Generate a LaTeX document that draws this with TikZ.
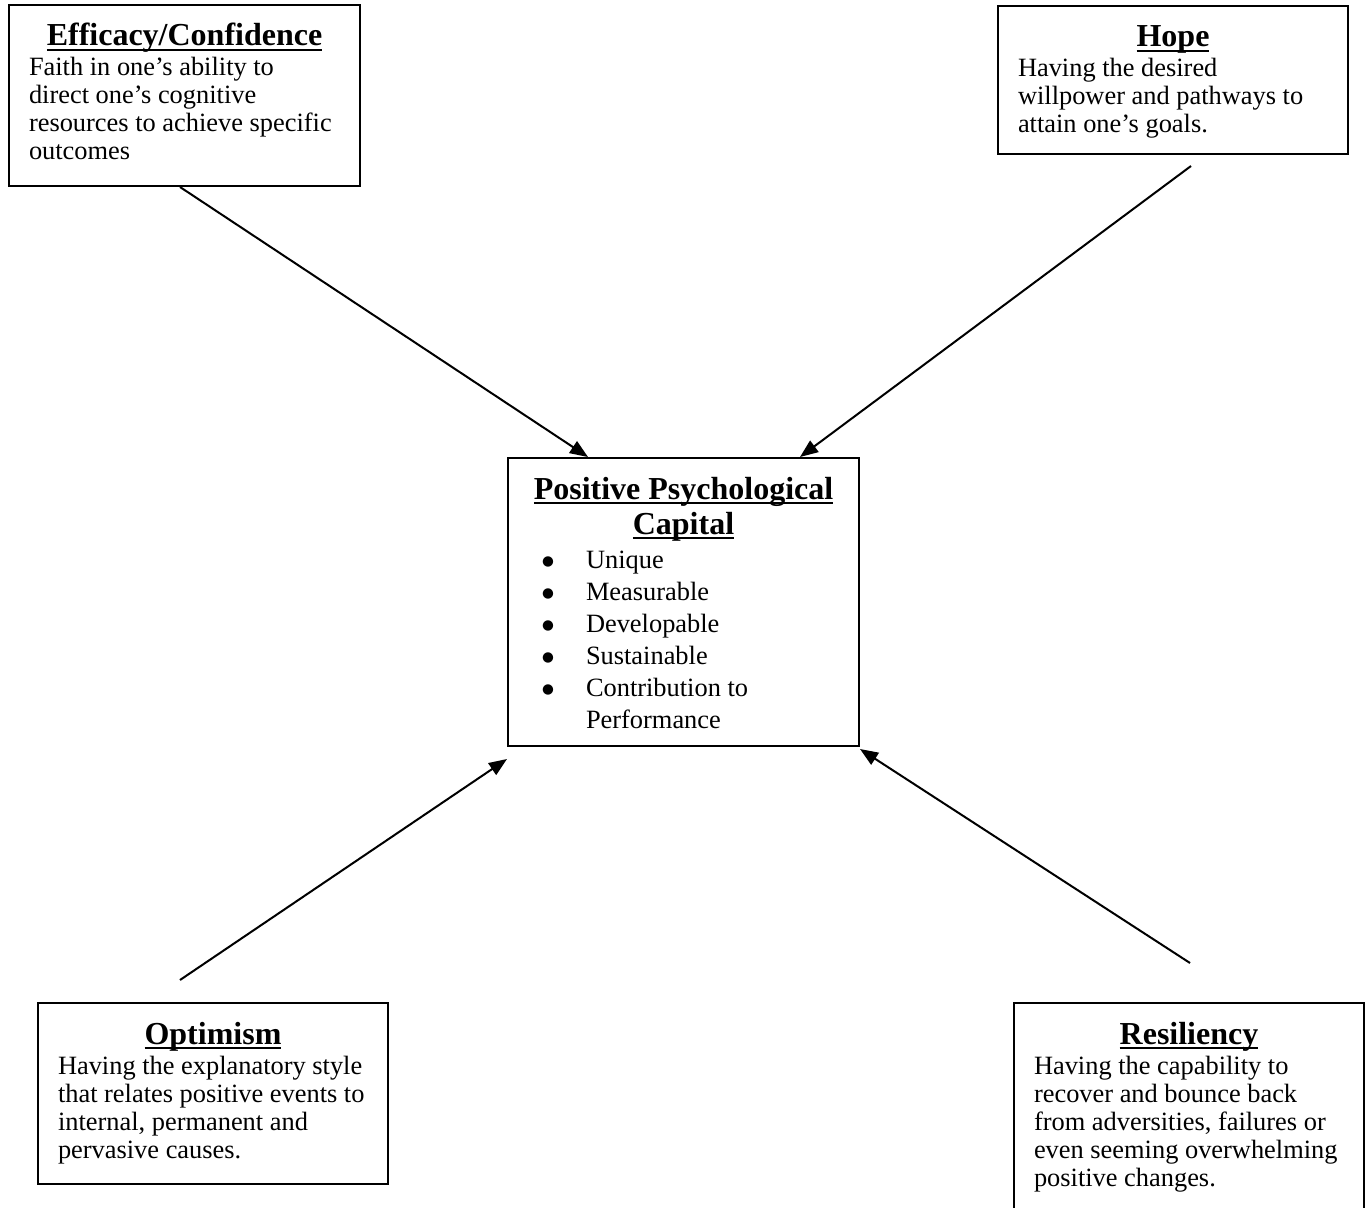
\documentclass[tikz,border=0pt]{standalone}
\usepackage{fontspec}
\setmainfont{Liberation Serif}
\newfontfamily\symfont{DejaVu Sans}
\usetikzlibrary{arrows.meta}

\newcommand{\headul}[1]{\setbox0=\hbox{#1}\leavevmode\rlap{\rule[-2.6pt]{\wd0}{0.9pt}}\box0}
\newcommand{\headfont}{\fontsize{16pt}{17.5pt}\selectfont\bfseries}
\newcommand{\bodyfont}{\fontsize{13.2pt}{14pt}\selectfont}
% box text: width, height, heading, body
\newcommand{\conceptbox}[4]{%
  \parbox[c][#2][t]{#1}{%
    {\centering\headfont\rule{0pt}{20.5pt}#3\par}%
    \vspace{1pt}%
    {\bodyfont\raggedright #4\par}}}
\newcommand{\bulletitem}{\hspace*{7pt}\makebox[22pt][l]{\raisebox{1.3pt}{\symfont\fontsize{6.8pt}{16pt}\selectfont ●}}}

\begin{document}
\begin{tikzpicture}[
            x=0.5pt, y=-0.5pt,
            concept/.style={draw, line width=1pt, anchor=north west, inner xsep=10pt, inner ysep=0pt},
            arrow/.style={-{Triangle[length=9pt,width=7pt]}, line width=1pt}
        ]
            \useasboundingbox (0,0) rectangle (1369,1208);
            \fill[white] (0,0) rectangle (1369,1208);

            % Top row - Efficacy and Hope
            \node[concept] (eff) at (8,4) {\conceptbox{155.5pt}{90.5pt}{\headul{Efficacy/Confidence}}{Faith in one’s ability to\\direct one’s cognitive\\resources to achieve specific\\outcomes}};
            \node[concept] (hope) at (997,5) {\conceptbox{155pt}{74pt}{\headul{Hope}}{Having the desired\\willpower and pathways to\\attain one’s goals.}};

            % Middle - Positive Psychological Capital
            \node[concept] (cap) at (507,457) {\conceptbox{155.5pt}{144pt}{\headul{Positive Psychological}\\\headul{Capital}}{\baselineskip=16pt
                \bulletitem Unique\\
                \bulletitem Measurable\\
                \bulletitem Developable\\
                \bulletitem Sustainable\\
                \bulletitem Contribution to\\
                \hspace*{29pt}Performance}};

            % Bottom row - Optimism and Resiliency
            \node[concept] (opt) at (37,1002) {\conceptbox{155pt}{90.5pt}{\headul{Optimism}}{Having the explanatory style\\that relates positive events to\\internal, permanent and\\pervasive causes.}};
            \node[concept] (res) at (1013,1002) {\conceptbox{155pt}{105pt}{\headul{Resiliency}}{Having the capability to\\recover and bounce back\\from adversities, failures or\\even seeming overwhelming\\positive changes.}};

            % Connect each component to the centre
            \draw[arrow] ([xshift=86pt]eff.south west) -- ([xshift=40.5pt]cap.north west);
            \draw[arrow] ([shift={(97pt,-5.5pt)}]hope.south west) -- ([xshift=-30pt]cap.north east);
            \draw[arrow] ([shift={(71.5pt,11pt)}]opt.north west) -- ([yshift=-6pt]cap.south west);
            \draw[arrow] ([shift={(88.5pt,19.5pt)}]res.north west) -- ([yshift=-1pt]cap.south east);
        \end{tikzpicture}
\end{document}
